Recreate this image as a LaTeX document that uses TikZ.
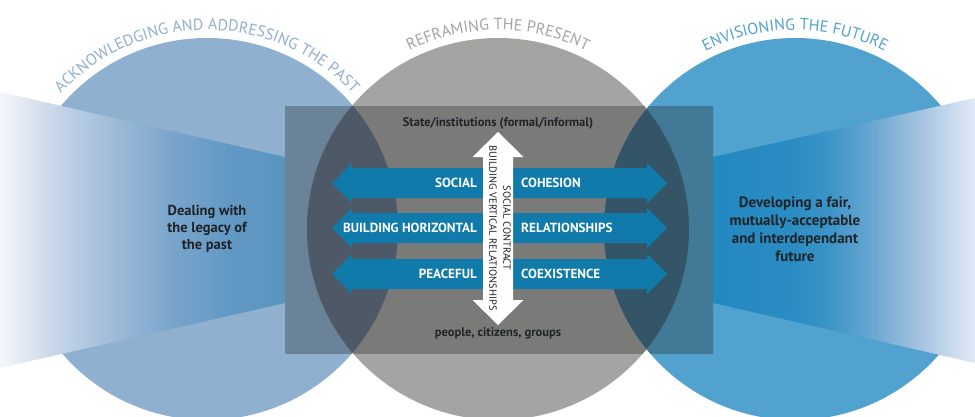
\documentclass[tikz,border=0pt]{standalone}
\usepackage{fontspec}
\setmainfont{PT Sans}
\usetikzlibrary{decorations.text}

% circle fills
\definecolor{cPast}{HTML}{8FB0CE}
\definecolor{cPresent}{HTML}{A4A4A3}
\definecolor{cFuture}{HTML}{51A2CE}
% the same circles seen through the central panel
\definecolor{pPast}{HTML}{6A8398}
\definecolor{pPresent}{HTML}{7A7A79}
\definecolor{pFuture}{HTML}{417997}
\definecolor{lensPast}{HTML}{4D5966}
\definecolor{lensFuture}{HTML}{345567}
% arrows and text
\definecolor{arrowblue}{HTML}{107AAB}
\definecolor{ink}{HTML}{202328}
% beam gradients
\definecolor{bl0}{HTML}{F4F6FB}
\definecolor{bl1}{HTML}{E9EEF6}
\definecolor{bl2}{HTML}{C5D5E8}
\definecolor{bl3}{HTML}{9DBBD8}
\definecolor{bl4}{HTML}{7AA5CC}
\definecolor{bl5}{HTML}{6299C4}
\definecolor{bl6}{HTML}{5994BF}
\definecolor{br0}{HTML}{2389C1}
\definecolor{br1}{HTML}{2A8CC2}
\definecolor{br2}{HTML}{3C94C7}
\definecolor{br3}{HTML}{68A6D1}
\definecolor{br4}{HTML}{A5C4E1}
\definecolor{br5}{HTML}{E1E9F6}

\pgfdeclarehorizontalshading{beamleft}{100bp}{color(0bp)=(bl0); color(25bp)=(bl0);
  color(27.6bp)=(bl1); color(35bp)=(bl2); color(45bp)=(bl3); color(55bp)=(bl4);
  color(65bp)=(bl5); color(75bp)=(bl6); color(100bp)=(bl6)}
\pgfdeclarehorizontalshading{beamright}{100bp}{color(0bp)=(br0); color(25bp)=(br0);
  color(39.7bp)=(br1); color(47.3bp)=(br2); color(55bp)=(br3); color(64.5bp)=(br4);
  color(75bp)=(br5); color(100bp)=(br5)}

\tikzset{
  note/.style={inner sep=0pt, text=ink, align=center, font=\bfseries\fontsize{14.5}{17}\selectfont},
  arrowtxt/.style={inner sep=0pt, text=white, font=\bfseries\fontsize{13.2}{15}\selectfont},
  axistxt/.style={inner sep=0pt, text=ink, font=\bfseries\fontsize{12.5}{14}\selectfont},
  pics/harrow/.style={code={
    \fill[arrowblue] (-167.5,0) -- (-147.5,20) -- (-147.5,15) -- (147.5,15) -- (147.5,20)
      -- (167.5,0) -- (147.5,-20) -- (147.5,-15) -- (-147.5,-15) -- (-147.5,-20) -- cycle;}},
  pics/varrow/.style={code={
    \fill[white] (0,96.5) -- (25.5,71.5) -- (15,71.5) -- (15,-71.5) -- (25.5,-71.5)
      -- (0,-96.5) -- (-25.5,-71.5) -- (-15,-71.5) -- (-15,71.5) -- (-25.5,71.5) -- cycle;}},
}

\begin{document}
\begin{tikzpicture}[x=1pt,y=1pt]
\useasboundingbox (0,0) rectangle (975,416);
\clip (0,0) rectangle (975,416);
\fill[white] (0,0) rectangle (975,416);

\coordinate (L) at (207,187);
\coordinate (G) at (498,187);
\coordinate (R) at (795,187);

% the three circles
\fill[cPast] (L) circle (191);
\fill[cPresent] (G) circle (191);
\fill[cFuture] (R) circle (191);

% light beams on either side
\shade[shading=beamleft] (0,324) -- (285,259) -- (285,113) -- (0,48) -- cycle;
\shade[shading=beamright] (713,259) -- (975,318) -- (975,53) -- (713,113) -- cycle;

% central translucent panel
\begin{scope}
  \clip (285,63) rectangle (713,309);
  \fill[pPast] (L) circle (191);
  \fill[pPresent] (G) circle (191);
  \fill[pFuture] (R) circle (191);
  \begin{scope}
    \clip (L) circle (191);
    \fill[lensPast] (G) circle (191);
  \end{scope}
  \begin{scope}
    \clip (R) circle (191);
    \fill[lensFuture] (G) circle (191);
  \end{scope}
\end{scope}

% titles along the circle tops
\path[decorate, decoration={text along path, text align=center,
  text={|\fontsize{16}{16}\selectfont\color{cPast}|ACKNOWLEDGING AND ADDRESSING THE PAST}}]
  (L) ++(150:199) arc[start angle=150, end angle=30, radius=199];
\path[decorate, decoration={text along path, text align=center,
  text={|\fontsize{16}{16}\selectfont\color{cPresent}|REFRAMING THE PRESENT}}]
  (G) ++(150:199) arc[start angle=150, end angle=30, radius=199];
\path[decorate, decoration={text along path, text align=center,
  text={|\fontsize{16}{16}\selectfont\color{cFuture}|ENVISIONING THE FUTURE}}]
  (R) ++(150:199) arc[start angle=150, end angle=30, radius=199];

% horizontal relationship arrows
\pic at (499.5,233) {harrow};
\pic at (499.5,188) {harrow};
\pic at (499.5,142) {harrow};

% vertical relationship arrow
\pic at (498,187.5) {varrow};
\node[inner sep=0pt, rotate=-90, align=center, text=ink,
  font=\fontsize{10.4}{14}\selectfont] (contract) at (500,188)
  {SOCIAL CONTRACT\\BUILDING VERTICAL RELATIONSHIPS};

% arrow labels
\node[arrowtxt, anchor=east] (social) at (477,233) {SOCIAL};
\node[arrowtxt, anchor=west] (cohesion) at (521,233) {COHESION};
\node[arrowtxt, anchor=east] (horizontal) at (477,188) {BUILDING HORIZONTAL};
\node[arrowtxt, anchor=west] (relations) at (521,188) {RELATIONSHIPS};
\node[arrowtxt, anchor=east] (peaceful) at (477,142) {PEACEFUL};
\node[arrowtxt, anchor=west] (coexist) at (521,142) {COEXISTENCE};

% ends of the vertical axis
\node[axistxt] (state) at (498,293) {State/institutions (formal/informal)};
\node[axistxt] (people) at (498,83) {people, citizens, groups};

% side statements
\node[note] (past) at (207,187) {Dealing with\\the legacy of\\the past};
\node[note, font=\bfseries\fontsize{15}{18}\selectfont] (future) at (795,187)
  {Developing a fair,\\mutually-acceptable\\and interdependant\\future};
\end{tikzpicture}
\end{document}
